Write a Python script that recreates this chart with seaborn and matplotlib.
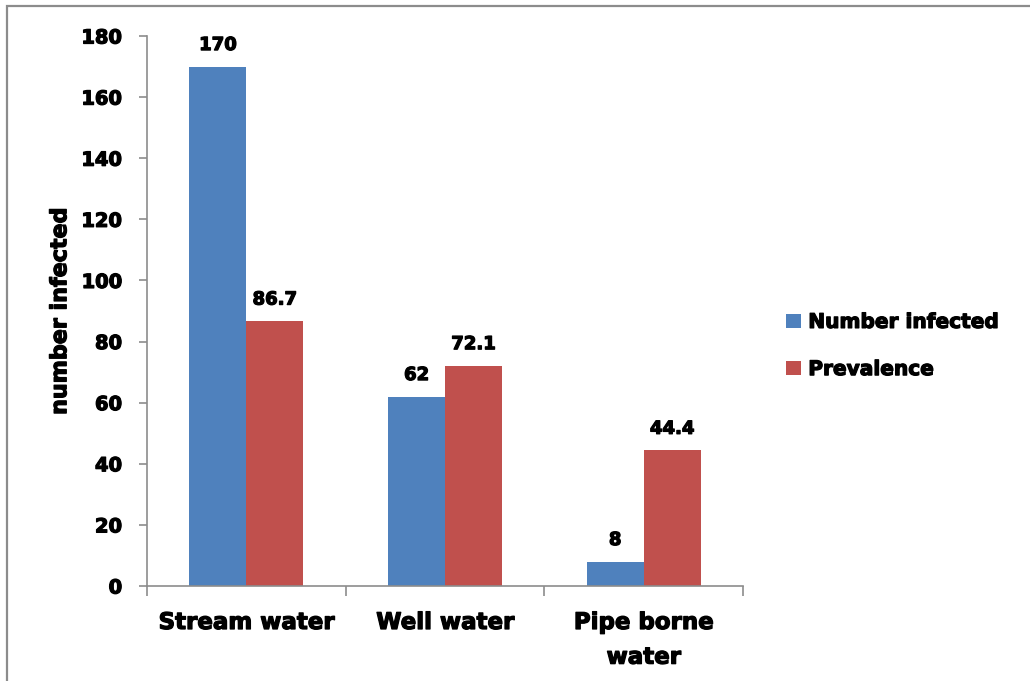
import matplotlib
matplotlib.use("Agg")
import matplotlib.pyplot as plt
import matplotlib.patches as mpatches
import matplotlib.patheffects as pe
import seaborn as sns
import pandas as pd

# Infection counts and prevalence by water source
sources = ["Stream water", "Well water", "Pipe borne\nwater"]
number_infected = [170, 62, 8]
prevalence = [86.7, 72.1, 44.4]
series_names = ["Number infected", "Prevalence"]
y_ticks = [0, 20, 40, 60, 80, 100, 120, 140, 160, 180]

colors = ["#4F81BD", "#C0504D"]
axis_gray = "#8c8c8c"

df = pd.DataFrame({
    "source": sources * 2,
    "value": number_infected + prevalence,
    "series": [series_names[0]] * len(sources) + [series_names[1]] * len(sources),
})

sns.set_style("white")
plt.rcParams["font.family"] = ["DejaVu Sans"]
plt.rcParams["font.weight"] = "bold"
plt.rcParams["text.color"] = "black"
plt.rcParams["xtick.color"] = "black"
plt.rcParams["ytick.color"] = "black"
plt.rcParams["axes.labelcolor"] = "black"

# Thicker strokes give the heavy typeface look
heavy = [pe.withStroke(linewidth=0.9, foreground="black")]

fig = plt.figure(figsize=(10.30, 6.81), dpi=100)
ax = fig.add_axes([147 / 1030, 1 - 586 / 681, (743 - 147) / 1030, (586 - 36) / 681])

sns.barplot(data=df, x="source", y="value", hue="series", order=sources,
            hue_order=series_names, palette=colors, width=0.573,
            saturation=1, gap=0, ax=ax, legend=False, linewidth=0)

# Value labels above each bar
for container in ax.containers:
    for t in ax.bar_label(container, fmt="%g", padding=9, fontsize=13, fontweight="bold"):
        t.set_path_effects(heavy)

ax.set_xlim(-0.5, len(sources) - 0.5)
ax.set_ylim(0, 180)
ax.set_yticks(y_ticks)
ax.set_yticklabels([str(t) for t in y_ticks], fontsize=14, fontweight="bold")
ax.set_xticks(range(len(sources)))
ax.set_xticklabels(sources, fontsize=16.5, fontweight="bold", linespacing=1.65)
ax.set_xticks([i - 0.5 for i in range(len(sources) + 1)], minor=True)
ax.tick_params(axis="x", which="major", bottom=True, length=0, pad=18)
ax.tick_params(axis="x", which="minor", bottom=True, length=7, width=1.2, color=axis_gray, direction="out")
ax.tick_params(axis="y", left=True, length=6, width=1.2, color=axis_gray, labelcolor="black",
               direction="out", pad=12)
for t in ax.get_xticklabels() + ax.get_yticklabels():
    t.set_path_effects(heavy)
ax.set_xlabel("")
ax.set_ylabel("number infected", fontsize=16, fontweight="bold", labelpad=8,
              path_effects=heavy)

for side in ["top", "right"]:
    ax.spines[side].set_visible(False)
for side in ["left", "bottom"]:
    ax.spines[side].set_color(axis_gray)
    ax.spines[side].set_linewidth(1.2)

handles = [mpatches.Patch(facecolor=c, edgecolor="none", label=n) for c, n in zip(colors, series_names)]
leg = fig.legend(handles=handles, loc="center left", bbox_to_anchor=(768 / 1030, 1 - 346 / 681),
                 frameon=False, handlelength=0.75, handleheight=0.75,
                 handletextpad=0.35, labelspacing=1.4, prop={"weight": "bold", "size": 14.5})
for t in leg.get_texts():
    t.set_path_effects(heavy)

# Outer chart frame
fig.patches.append(mpatches.Rectangle((7 / 1030, -0.1), 1.2, 1 - 6 / 681 + 0.1,
                                      transform=fig.transFigure, fill=False,
                                      edgecolor=axis_gray, linewidth=1.6, clip_on=False))

fig.savefig("out.png", dpi=100)
